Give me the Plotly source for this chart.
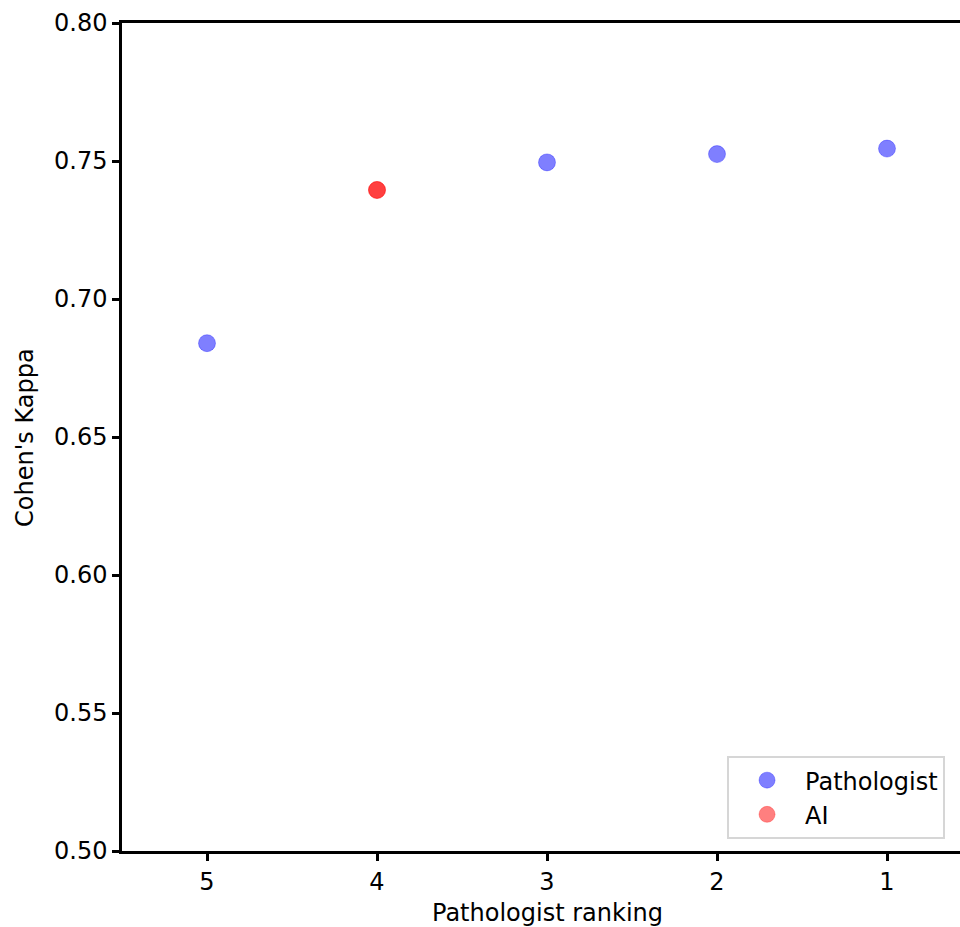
import plotly.graph_objects as go

path_rank = [5, 3, 2, 1]
path_kappa = [0.684, 0.7495, 0.7525, 0.7545]
ai_rank = [4]
ai_kappa = [0.7395]
y_ticks = [0.50, 0.55, 0.60, 0.65, 0.70, 0.75, 0.80]
x_ticks = [5, 4, 3, 2, 1]

FONT = "DejaVu Sans"
FS = 24
fig = go.Figure()
fig.add_trace(go.Scatter(
    x=path_rank, y=path_kappa, mode="markers", name="Pathologist",
    marker=dict(size=17, color="rgba(0,0,255,0.5)",
                line=dict(width=1, color="rgba(0,0,255,0.3)")),
))
fig.add_trace(go.Scatter(
    x=ai_rank, y=ai_kappa, mode="markers", name="AI",
    marker=dict(size=17, color="rgba(255,0,0,0.5)",
                line=dict(width=1, color="rgba(255,0,0,0.3)")),
))
fig.add_trace(go.Scatter(
    x=ai_rank, y=ai_kappa, mode="markers", name="AI", showlegend=False,
    marker=dict(size=17, color="rgba(255,0,0,0.5)",
                line=dict(width=1, color="rgba(255,0,0,0.3)")),
))

fig.update_layout(
    width=960, height=927,
    margin=dict(l=122, r=0, t=23, b=76),
    paper_bgcolor="white", plot_bgcolor="white",
    font=dict(family=FONT, size=FS, color="black"),
    showlegend=True,
    legend=dict(
        x=0.722, y=0.1147, xanchor="left", yanchor="top",
        bgcolor="rgba(255,255,255,0.8)", bordercolor="#d6d6d6", borderwidth=2,
        font=dict(family=FONT, size=FS), itemsizing="trace", itemwidth=66,
        tracegroupgap=0,
    ),
    xaxis=dict(
        range=[5.5, 0.5706], tickmode="array", tickvals=x_ticks,
        ticktext=[str(v) for v in x_ticks],
        showline=True, linecolor="black", linewidth=2.5, mirror=True,
        ticks="outside", ticklen=7, tickwidth=2.5, tickcolor="black",
        showgrid=False, zeroline=False,
        tickfont=dict(family=FONT, size=FS),
    ),
    yaxis=dict(
        range=[0.50, 0.80], tickmode="array", tickvals=y_ticks,
        ticktext=[f"{v:.2f}" for v in y_ticks],
        showline=True, linecolor="black", linewidth=2.5,
        ticks="outside", ticklen=7, tickwidth=2.5, tickcolor="black",
        showgrid=False, zeroline=False,
        tickfont=dict(family=FONT, size=FS),
    ),
)
fig.add_annotation(
    text="Pathologist ranking", x=3, xref="x", y=-0.0749, yref="paper",
    showarrow=False, font=dict(family=FONT, size=FS), yanchor="middle",
)
fig.add_annotation(
    text="Cohen's Kappa", x=-0.1158, xref="paper", y=0.5, yref="paper",
    showarrow=False, font=dict(family=FONT, size=FS), textangle=-90,
    xanchor="center", yanchor="middle",
)
fig.write_html(
    "out.html",
    config={"displayModeBar": False},
    post_script="document.body.style.margin='0';document.body.style.overflow='hidden';",
)
